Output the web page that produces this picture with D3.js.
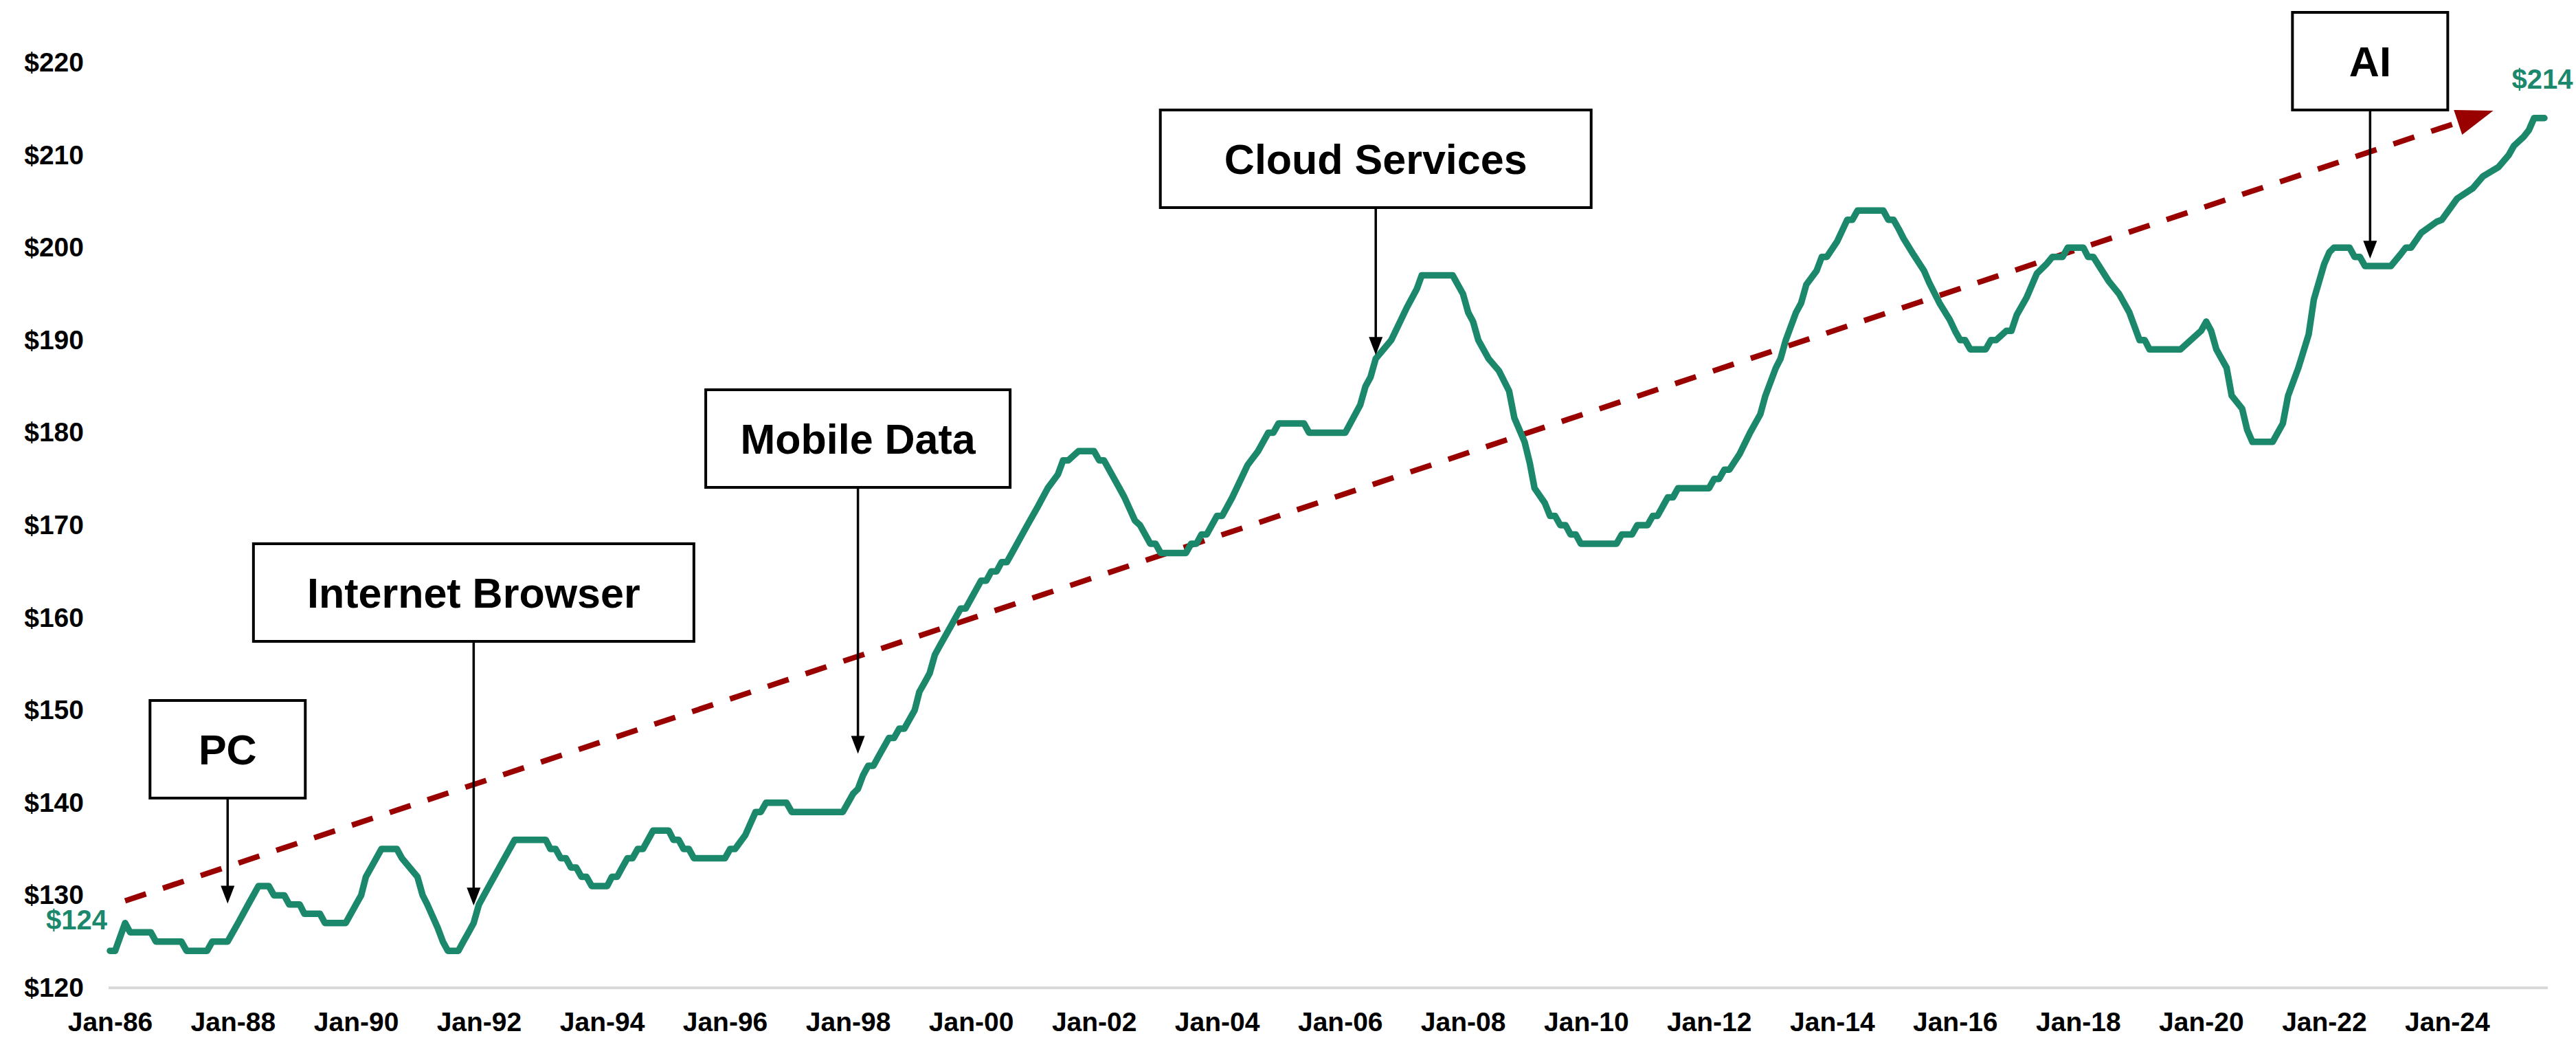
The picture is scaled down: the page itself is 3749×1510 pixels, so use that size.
<!DOCTYPE html>
<html>
<head>
<meta charset="utf-8">
<script src="https://cdn.jsdelivr.net/npm/d3@7"></script>
<style>
  body { margin: 0; background: #fff; }
  svg { display: block; font-family: 'Liberation Sans', Arial, sans-serif; font-weight: bold; }
</style>
</head>
<body>
<svg width="3749" height="1510"></svg>
<script>
// monthly price (vertices of the line)
const months = [
  '1986-01','1986-02','1986-04','1986-05','1986-09','1986-10','1987-03','1987-04','1987-08','1987-09',
  '1987-12','1988-02','1988-04','1988-06','1988-08','1988-09','1988-11','1988-12','1989-02','1989-03',
  '1989-06','1989-07','1989-11','1990-01','1990-02','1990-03','1990-04','1990-06','1990-09','1990-10',
  '1991-01','1991-02','1991-03','1991-05','1991-06','1991-07','1991-09','1991-10','1991-11','1991-12',
  '1992-01','1992-03','1992-05','1992-08','1993-02','1993-03','1993-04','1993-05','1993-06','1993-07',
  '1993-08','1993-09','1993-10','1993-11','1994-02','1994-03','1994-04','1994-05','1994-06','1994-07',
  '1994-08','1994-09','1994-11','1995-02','1995-03','1995-04','1995-05','1995-06','1995-07','1996-01',
  '1996-02','1996-03','1996-05','1996-07','1996-08','1996-09','1997-01','1997-02','1997-12','1998-01',
  '1998-02','1998-03','1998-04','1998-05','1998-06','1998-07','1998-09','1998-10','1998-11','1998-12',
  '1999-02','1999-03','1999-04','1999-05','1999-06','1999-07','1999-09','1999-11','1999-12','2000-03',
  '2000-04','2000-05','2000-06','2000-07','2000-08','2000-09','2000-12','2001-02','2001-04','2001-06',
  '2001-07','2001-08','2001-10','2002-01','2002-02','2002-03','2002-06','2002-07','2002-09','2002-10',
  '2002-12','2003-01','2003-02','2003-07','2003-08','2003-09','2003-10','2003-11','2004-01','2004-02',
  '2004-04','2004-07','2004-09','2004-11','2004-12','2005-01','2005-06','2005-07','2006-02','2006-05',
  '2006-06','2006-07','2006-08','2006-11','2007-02','2007-04','2007-05','2007-11','2008-01','2008-02',
  '2008-03','2008-04','2008-06','2008-08','2008-10','2008-11','2009-01','2009-02','2009-03','2009-05',
  '2009-06','2009-07','2009-08','2009-09','2009-10','2009-11','2009-12','2010-07','2010-08','2010-10',
  '2010-11','2011-01','2011-02','2011-03','2011-05','2011-06','2011-07','2012-01','2012-02','2012-03',
  '2012-04','2012-05','2012-07','2012-09','2012-11','2012-12','2013-02','2013-03','2013-04','2013-06',
  '2013-07','2013-08','2013-10','2013-11','2013-12','2014-02','2014-04','2014-05','2014-06','2014-11',
  '2014-12','2015-01','2015-02','2015-03','2015-05','2015-07','2015-08','2015-10','2015-12','2016-01',
  '2016-02','2016-03','2016-04','2016-07','2016-08','2016-09','2016-11','2016-12','2017-01','2017-03',
  '2017-05','2017-07','2017-08','2017-10','2017-11','2018-02','2018-03','2018-04','2018-07','2018-09',
  '2018-11','2019-01','2019-02','2019-03','2019-09','2019-11','2020-01','2020-02','2020-03','2020-04',
  '2020-06','2020-07','2020-09','2020-10','2020-11','2021-03','2021-05','2021-06','2021-08','2021-10',
  '2021-11','2022-01','2022-02','2022-03','2022-06','2022-07','2022-08','2022-09','2023-02','2023-04',
  '2023-05','2023-06','2023-08','2023-11','2023-12','2024-03','2024-06','2024-08','2024-11','2025-01',
  '2025-02','2025-04','2025-05','2025-06','2025-08'
];
const prices = [
  124,124,127,126,126,125,125,124,124,125,
  125,127,129,131,131,130,130,129,129,128,
  128,127,127,129,130,132,133,135,135,134,
  132,130,129,126.5,125,124,124,125,126,127,
  129,131,133,136,136,135,135,134,134,133,
  133,132,132,131,131,132,132,133,134,134,
  135,135,137,137,136,136,135,135,134,134,
  135,135,136.5,139,139,140,140,139,139,140,
  141,141.5,143,144,144,145,147,147,148,148,
  150,152,153,154,156,157,159,161,161,164,
  164,165,165,166,166,167,170,172,174,175.5,
  177,177,178,178,177,177,174,173,170.5,170,
  168,168,167,167,168,168,169,169,171,171,
  173,176.5,178,180,180,181,181,180,180,183,
  185,186,188,190,193.5,195.5,197,197,195,193,
  192,190,188,186.7,184.5,181.6,179,176.7,174,172.4,
  171,171,170,170,169,169,168,168,169,169,
  170,170,171,171,173,173,174,174,175,175,
  176,176,177.7,180,182,184,187,188,190,193,
  194,196,197.5,199,199,200.7,203,203,204,204,
  203,203,202,201,199.2,197.5,196.2,194,192.2,191,
  190,190,189,189,190,190,191,191,192.7,194.6,
  197.2,198.3,199,199,200,200,199,199,196.4,195,
  193,190,190,189,189,190,191,192,191,189,
  187,184,182.6,180.3,179,179,181,184,187,190.6,
  194.4,198.2,199.5,200,200,199,199,198,198,199.3,
  200,200,201.6,202.8,203,205.3,206.4,207.7,208.7,210,
  211,212,212.7,214,214
];

const yTickValues = [120, 130, 140, 150, 160, 170, 180, 190, 200, 210, 220];
const xTickLabels = ['Jan-86','Jan-88','Jan-90','Jan-92','Jan-94','Jan-96','Jan-98','Jan-00','Jan-02','Jan-04',
  'Jan-06','Jan-08','Jan-10','Jan-12','Jan-14','Jan-16','Jan-18','Jan-20','Jan-22','Jan-24'];

// technology waves: label, month the arrow points at, price at the arrow tip
const annotationLabels = ['PC', 'Internet Browser', 'Mobile Data', 'Cloud Services', 'AI'];
const annotationMonths = ['1987-12', '1991-12', '1998-03', '2006-08', '2022-10'];
const annotationTips = [129.1, 128.9, 145.3, 188.4, 198.8];

// trend arrow end points
const trendMonths = ['1986-04', '2024-10'];
const trendValues = [129.4, 214.8];

const parseMonth = d3.timeParse('%Y-%m');
const parseTick = d3.timeParse('%b-%y');

const green = '#1b876b';
const darkRed = '#990000';

const svg = d3.select('svg');
const svgWidth = +svg.attr('width');
const svgHeight = +svg.attr('height');

const xScale = d3.scaleTime()
  .domain([parseMonth('1986-01'), parseMonth('2025-08')])
  .range([160, 3703]);

const yScale = d3.scaleLinear()
  .domain([120, 220])
  .range([1437, 91]);

const data = months.map((m, i) => ({ date: parseMonth(m), value: prices[i] }));

svg.append('rect')
  .attr('width', svgWidth)
  .attr('height', svgHeight)
  .attr('fill', '#fff');

// baseline gridline
svg.append('line')
  .attr('x1', 158)
  .attr('x2', 3708)
  .attr('y1', yScale(120))
  .attr('y2', yScale(120))
  .attr('stroke', '#d9d9d9')
  .attr('stroke-width', 4);

// axes
const yAxisGroup = svg.append('g')
  .attr('class', 'axis vertical-axis')
  .attr('transform', `translate(${xScale.range()[0]}, 0)`)
  .call(d3.axisLeft(yScale)
    .tickValues(yTickValues)
    .tickFormat(d => `$${d}`)
    .tickSize(0)
    .tickPadding(38));
yAxisGroup.select('path.domain').remove();

const xAxisGroup = svg.append('g')
  .attr('class', 'axis horizontal-axis')
  .attr('transform', `translate(0, ${yScale(120)})`)
  .call(d3.axisBottom(xScale)
    .tickValues(xTickLabels.map(parseTick))
    .tickFormat((d, i) => xTickLabels[i])
    .tickSize(0)
    .tickPadding(35));
xAxisGroup.select('path.domain').remove();

svg.selectAll('.axis text')
  .attr('font-family', "'Liberation Sans', Arial, sans-serif")
  .attr('font-weight', 'bold')
  .attr('font-size', 39)
  .attr('fill', '#000');

// trend line with arrow head
const t0 = [xScale(parseMonth(trendMonths[0])), yScale(trendValues[0])];
const t1 = [xScale(parseMonth(trendMonths[1])), yScale(trendValues[1])];
const angle = Math.atan2(t1[1] - t0[1], t1[0] - t0[0]);
const headLength = 54;
const headHalf = 19;
const base = [t1[0] - headLength * Math.cos(angle), t1[1] - headLength * Math.sin(angle)];

svg.append('line')
  .attr('class', 'trend-line')
  .attr('x1', t0[0])
  .attr('y1', t0[1])
  .attr('x2', base[0])
  .attr('y2', base[1])
  .attr('stroke', darkRed)
  .attr('stroke-width', 8)
  .attr('stroke-dasharray', '32 26');

svg.append('path')
  .attr('class', 'trend-head')
  .attr('d', d3.line()([
    t1,
    [base[0] + headHalf * Math.sin(angle), base[1] - headHalf * Math.cos(angle)],
    [base[0] - headHalf * Math.sin(angle), base[1] + headHalf * Math.cos(angle)]
  ]) + 'Z')
  .attr('fill', darkRed);

// price line
const lineGenerator = d3.line()
  .x(d => xScale(d.date))
  .y(d => yScale(d.value));

svg.append('path')
  .attr('class', 'price-line')
  .attr('d', lineGenerator(data))
  .attr('fill', 'none')
  .attr('stroke', green)
  .attr('stroke-width', 9.5)
  .attr('stroke-linejoin', 'round')
  .attr('stroke-linecap', 'round');

// first / last value labels
const first = data[0];
const last = data[data.length - 1];
svg.append('text')
  .attr('x', xScale(first.date) - 4)
  .attr('y', yScale(first.value) - 31)
  .attr('text-anchor', 'end')
  .attr('font-size', 40)
  .attr('fill', green)
  .text(`$${first.value}`);
svg.append('text')
  .attr('x', xScale(last.date) - 3)
  .attr('y', yScale(last.value) - 43)
  .attr('text-anchor', 'middle')
  .attr('font-size', 40)
  .attr('fill', green)
  .text(`$${last.value}`);

// annotation boxes (top and width in pixels)
const boxLayout = {
  'PC': { top: 1019, width: 226 },
  'Internet Browser': { top: 791, width: 641 },
  'Mobile Data': { top: 567, width: 443 },
  'Cloud Services': { top: 160, width: 627 },
  'AI': { top: 18, width: 226 }
};
const boxHeight = 142;

const annotationGroup = svg.append('g').attr('class', 'annotations');
annotationLabels.forEach((label, i) => {
  const x = xScale(parseMonth(annotationMonths[i]));
  const tipY = yScale(annotationTips[i]);
  const { top, width } = boxLayout[label];
  const g = annotationGroup.append('g');

  g.append('line')
    .attr('x1', x)
    .attr('x2', x)
    .attr('y1', top + boxHeight)
    .attr('y2', tipY - 20)
    .attr('stroke', '#000')
    .attr('stroke-width', 3.5);
  g.append('path')
    .attr('d', `M${x},${tipY} L${x - 10},${tipY - 26} L${x + 10},${tipY - 26} Z`)
    .attr('fill', '#000');

  g.append('rect')
    .attr('x', x - width / 2)
    .attr('y', top)
    .attr('width', width)
    .attr('height', boxHeight)
    .attr('fill', '#fff')
    .attr('stroke', '#000')
    .attr('stroke-width', 4);
  g.append('text')
    .attr('x', x)
    .attr('y', top + boxHeight / 2 + 22)
    .attr('text-anchor', 'middle')
    .attr('font-size', 61)
    .attr('fill', '#000')
    .text(label);
});
</script>
</body>
</html>
